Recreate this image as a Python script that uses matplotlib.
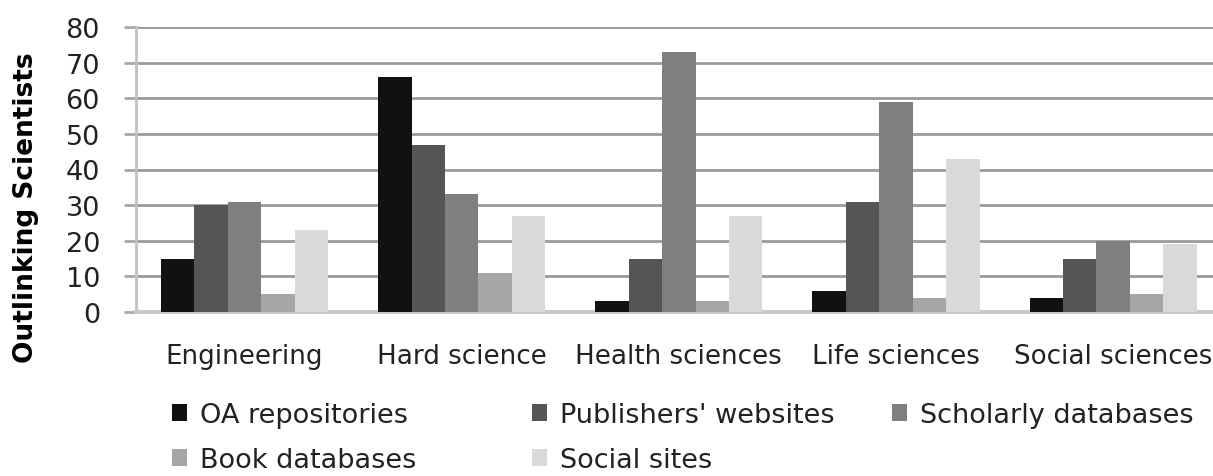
import numpy as np
import matplotlib.pyplot as plt

# data
categories = ['Engineering', 'Hard science', 'Health sciences', 'Life sciences', 'Social sciences']
series_names = ['OA repositories', "Publishers' websites", 'Scholarly databases',
                'Book databases', 'Social sites']
oa_repositories = [15, 66, 3, 6, 4]
publishers_websites = [30, 47, 15, 31, 15]
scholarly_databases = [31, 33, 73, 59, 20]
book_databases = [5, 11, 3, 4, 5]
social_sites = [23, 27, 27, 43, 19]

series = [oa_repositories, publishers_websites, scholarly_databases, book_databases, social_sites]
colors = ['#111111', '#555555', '#7f7f7f', '#a6a6a6', '#d9d9d9']

plt.rcParams['font.family'] = ['DejaVu Sans']

fig = plt.figure(figsize=(12.13, 4.77), dpi=100)
ax = fig.add_axes([136 / 1213, 1 - 313 / 477, 1 - 136 / 1213, (313 - 28) / 477])

x = np.arange(len(categories))
w = 0.154
bars = []
for i, vals in enumerate(series):
    b = ax.bar(x + (i - 2) * w, vals, w, color=colors[i], label=series_names[i], zorder=3)
    bars.append(b)

ax.set_ylim(0, 80)
ax.set_xlim(-0.5, 4.46)
ax.set_yticks(range(0, 81, 10))
ax.yaxis.grid(True, color='#9a9a9a', linewidth=2, zorder=0)
ax.set_axisbelow(True)
ax.tick_params(axis='y', direction='out', length=9, width=2, color='#a8a8a8',
               labelsize=19.5, pad=17, labelcolor='#222222')
ax.tick_params(axis='x', length=0, labelsize=18.8, pad=22, labelcolor='#222222')
ax.set_xticks(x)
ax.set_xticklabels(categories)
for s in ['top', 'right']:
    ax.spines[s].set_visible(False)
ax.spines['left'].set_color('#c0c0c0')
ax.spines['left'].set_linewidth(2)
ax.spines['bottom'].set_color('#c8c8c8')
ax.spines['bottom'].set_linewidth(3)

ax.set_ylabel('Outlinking Scientists', fontsize=19, fontweight='bold')
ax.yaxis.set_label_coords(-0.09, 0.368)

# legend: three columns, two rows, placed one column at a time
cols = [[0, 3], [1, 4], [2]]
col_x = [172, 532, 892]
for idx, cx in zip(cols, col_x):
    leg = fig.legend([bars[i] for i in idx], [series_names[i] for i in idx],
                     loc='upper left', bbox_to_anchor=(cx / 1213, 1 - 403 / 477),
                     borderaxespad=0, borderpad=0, frameon=False, fontsize=19.5,
                     handlelength=0.55, handleheight=0.55, handletextpad=0.5,
                     labelspacing=0.7)
    for t in leg.get_texts():
        t.set_color('#222222')

plt.savefig('out.png', dpi=100)
